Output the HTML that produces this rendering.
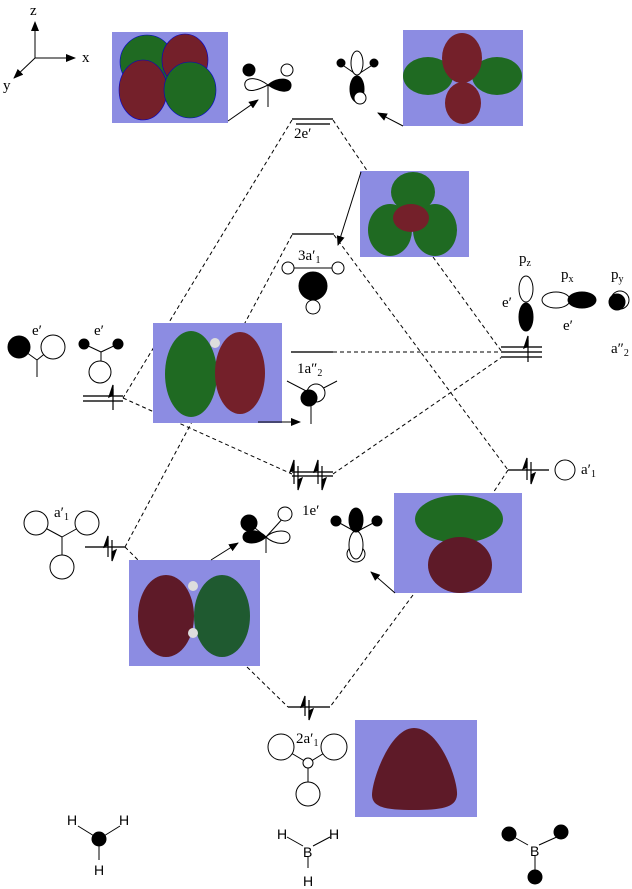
<!DOCTYPE html>
<html><head><meta charset="utf-8"><style>
html,body{margin:0;padding:0;background:#fff;}
svg{display:block;}
text{font-family:"Liberation Serif",serif;font-size:15px;fill:#000;}
.s{font-family:"Liberation Sans",sans-serif;font-size:14px;}
</style></head><body>
<svg width="632" height="889" viewBox="0 0 632 889" xmlns="http://www.w3.org/2000/svg">
<defs>
<marker id="ar" markerWidth="10" markerHeight="8" refX="9" refY="4" orient="auto" markerUnits="userSpaceOnUse"><path d="M0,0 L10,4 L0,8 z" fill="#000"/></marker>
</defs>
<g stroke="#000" stroke-width="1" fill="none" stroke-dasharray="4,3">
<line x1="292" y1="120" x2="123" y2="398"/>
<line x1="333" y1="120" x2="368" y2="172"/>
<line x1="433" y1="257" x2="502" y2="352"/>
<line x1="292" y1="235" x2="125" y2="547"/>
<line x1="334" y1="235" x2="508" y2="470"/>
<line x1="333" y1="352" x2="502" y2="352"/>
<line x1="123" y1="398" x2="292" y2="474"/>
<line x1="333" y1="474" x2="502" y2="357"/>
<line x1="508" y1="470" x2="493" y2="493"/>
<line x1="413" y1="595" x2="330" y2="707"/>
<line x1="125" y1="547" x2="138" y2="560"/>
<line x1="247" y1="667" x2="288" y2="707"/>
</g>
<g stroke="#555" stroke-width="2" fill="none">
<line x1="292" y1="119" x2="333" y2="119"/><line x1="296" y1="124" x2="330" y2="124"/>
<line x1="292" y1="234" x2="334" y2="234"/>
<line x1="291" y1="352" x2="333" y2="352"/>
<line x1="501" y1="347" x2="542" y2="347"/><line x1="501" y1="352" x2="542" y2="352"/><line x1="501" y1="357" x2="542" y2="357"/>
<line x1="83" y1="396" x2="123" y2="396"/><line x1="83" y1="401" x2="123" y2="401"/>
<line x1="292" y1="472" x2="333" y2="472"/><line x1="292" y1="476" x2="333" y2="476"/>
<line x1="508" y1="470" x2="549" y2="470"/>
<line x1="85" y1="547" x2="125" y2="547"/>
<line x1="288" y1="707" x2="330" y2="707"/>
</g>
<g fill="#000" stroke="#000" stroke-width="1.2">
<line x1="528" y1="340" x2="528" y2="362"/><path d="M528,336 L524,348 L528,346z"/>
<line x1="113" y1="389" x2="113" y2="410"/><path d="M113,385 L109,397 L113,395z"/>
<line x1="294" y1="464" x2="294" y2="484"/><path d="M294,460 L290,472 L294,470z"/>
<line x1="298" y1="466" x2="298" y2="488"/><path d="M298,490 L302,478 L298,480z"/>
<line x1="318" y1="464" x2="318" y2="484"/><path d="M318,460 L314,472 L318,470z"/>
<line x1="322" y1="466" x2="322" y2="488"/><path d="M322,490 L326,478 L322,480z"/>
<line x1="527" y1="462" x2="527" y2="480"/><path d="M527,458 L523,469 L527,467z"/>
<line x1="531" y1="462" x2="531" y2="482"/><path d="M531,484 L535,473 L531,475z"/>
<line x1="108" y1="540" x2="108" y2="557"/><path d="M108,536 L104,547 L108,545z"/>
<line x1="112" y1="540" x2="112" y2="559"/><path d="M112,561 L116,550 L112,552z"/>
<line x1="305" y1="700" x2="305" y2="716"/><path d="M305,696 L301,707 L305,705z"/>
<line x1="309" y1="700" x2="309" y2="718"/><path d="M309,720 L313,709 L309,711z"/>
</g>
<g>
<rect x="112" y="32" width="116" height="91" fill="#8c8ce2"/>
<ellipse cx="147" cy="62" rx="27" ry="27" fill="#1f6a22" stroke="#00c" stroke-width="0.6"/>
<ellipse cx="185" cy="60" rx="23" ry="26" fill="#74202a" stroke="#00c" stroke-width="0.6"/>
<ellipse cx="143" cy="90" rx="24" ry="30" fill="#74202a" stroke="#00c" stroke-width="0.6"/>
<ellipse cx="190" cy="90" rx="26" ry="28" fill="#1f6a22" stroke="#00c" stroke-width="0.6"/>
<rect x="403" y="30" width="120" height="96" fill="#8c8ce2"/>
<ellipse cx="428" cy="76" rx="25" ry="19" fill="#1f6a22"/>
<ellipse cx="497" cy="76" rx="25" ry="19" fill="#1f6a22"/>
<ellipse cx="462" cy="58" rx="20" ry="25" fill="#74202a"/>
<ellipse cx="463" cy="103" rx="18" ry="21" fill="#74202a"/>
<rect x="360" y="171" width="109" height="86" fill="#8c8ce2"/>
<ellipse cx="413" cy="192" rx="22" ry="20" fill="#1f6a22"/>
<ellipse cx="390" cy="230" rx="22" ry="26" fill="#1f6a22"/>
<ellipse cx="435" cy="230" rx="22" ry="26" fill="#1f6a22"/>
<ellipse cx="411" cy="218" rx="18" ry="14" fill="#74202a"/>
<rect x="153" y="323" width="129" height="100" fill="#8c8ce2"/>
<ellipse cx="191" cy="374" rx="26" ry="43" fill="#1f6a22"/>
<ellipse cx="240" cy="373" rx="25" ry="41" fill="#74202a"/>
<circle cx="215" cy="343" r="5" fill="#ddd"/>
<rect x="394" y="493" width="128" height="100" fill="#8c8ce2"/>
<ellipse cx="459" cy="519" rx="44" ry="24" fill="#1f6a22"/>
<ellipse cx="460" cy="565" rx="32" ry="28" fill="#5e1a28"/>
<rect x="129" y="560" width="131" height="106" fill="#8c8ce2"/>
<ellipse cx="166" cy="616" rx="28" ry="41" fill="#5e1a28"/>
<ellipse cx="222" cy="616" rx="28" ry="41" fill="#1f5a30"/>
<circle cx="193" cy="586" r="5" fill="#ddd"/><circle cx="193" cy="633" r="5" fill="#ddd"/>
<rect x="355" y="720" width="122" height="97" fill="#8c8ce2"/>
<path d="M414,728 C440,728 458,780 457,795 C456,808 440,810 414,810 C388,810 372,808 372,795 C372,780 390,728 414,728z" fill="#5e1a28"/>
</g>
<g stroke="#000" stroke-width="1" marker-end="url(#ar)">
<line x1="228" y1="121" x2="258" y2="100"/>
<line x1="403" y1="126" x2="378" y2="113"/>
<line x1="361" y1="172" x2="338" y2="245"/>
<line x1="258" y1="422" x2="300" y2="422"/>
<line x1="211" y1="560" x2="238" y2="543"/>
<line x1="395" y1="593" x2="371" y2="572"/>
<line x1="35" y1="58" x2="35" y2="22"/>
<line x1="35" y1="58" x2="75" y2="58"/>
<line x1="35" y1="58" x2="14" y2="78"/>
</g>
<text x="30" y="15">z</text><text x="82" y="62">x</text><text x="3" y="90">y</text>
<g stroke="#000" stroke-width="1">
<line x1="268" y1="85" x2="268" y2="107"/>
<path d="M268,85 C255,75 243,78 245,86 C247,94 258,90 268,85z" fill="#fff"/>
<path d="M268,85 C278,76 292,78 291,86 C290,94 278,92 268,85z" fill="#000"/>
<circle cx="249" cy="70" r="6" fill="#000"/><circle cx="287" cy="70" r="6" fill="#fff"/>
<line x1="357" y1="75" x2="341" y2="64"/><line x1="357" y1="75" x2="374" y2="64"/>
<circle cx="341" cy="63" r="4" fill="#000"/><circle cx="374" cy="63" r="4" fill="#000"/>
<ellipse cx="357" cy="63" rx="6" ry="12" fill="#fff"/>
<ellipse cx="357" cy="89" rx="7" ry="13" fill="#000"/>
<circle cx="360" cy="98" r="6" fill="#fff"/>
<line x1="288" y1="268" x2="338" y2="268"/><line x1="312" y1="285" x2="312" y2="307"/>
<circle cx="288" cy="268" r="6" fill="#fff"/><circle cx="338" cy="268" r="6" fill="#fff"/>
<circle cx="313" cy="307" r="7" fill="#fff"/>
<circle cx="313" cy="286" r="14" fill="#000"/>
<ellipse cx="526" cy="289" rx="7" ry="13" fill="#fff"/>
<ellipse cx="526" cy="317" rx="7" ry="14" fill="#000"/>
<ellipse cx="556" cy="300" rx="14" ry="8" fill="#fff"/>
<ellipse cx="582" cy="300" rx="14" ry="8" fill="#000"/>
<circle cx="620" cy="300" r="9" fill="#fff"/><circle cx="617" cy="302" r="8" fill="#000"/>
<line x1="19" y1="347" x2="37" y2="360"/><line x1="53" y1="347" x2="37" y2="360"/><line x1="37" y1="360" x2="37" y2="377"/>
<circle cx="19" cy="347" r="11" fill="#000"/><circle cx="53" cy="347" r="12" fill="#fff"/>
<line x1="84" y1="344" x2="101" y2="352"/><line x1="118" y1="344" x2="101" y2="352"/><line x1="101" y1="352" x2="101" y2="362"/>
<circle cx="84" cy="344" r="5" fill="#000"/><circle cx="118" cy="344" r="5" fill="#000"/>
<circle cx="100" cy="372" r="11" fill="#fff"/>
<line x1="287" y1="381" x2="312" y2="394"/><line x1="337" y1="381" x2="312" y2="394"/><line x1="311" y1="398" x2="311" y2="424"/>
<circle cx="316" cy="393" r="9" fill="#fff"/><circle cx="309" cy="398" r="8" fill="#000"/>
<circle cx="565" cy="470" r="10" fill="#fff"/>
<line x1="36" y1="523" x2="62" y2="537"/><line x1="87" y1="523" x2="62" y2="537"/><line x1="62" y1="537" x2="62" y2="556"/>
<circle cx="36" cy="523" r="12" fill="#fff"/><circle cx="87" cy="523" r="12" fill="#fff"/><circle cx="62" cy="567" r="12" fill="#fff"/>
<line x1="266" y1="537" x2="266" y2="553"/>
<path d="M266,537 C258,528 243,529 243,537 C243,545 258,545 266,537z" fill="#000"/>
<path d="M266,537 C274,529 290,529 290,537 C290,546 274,545 266,537z" fill="#fff"/>
<line x1="266" y1="537" x2="250" y2="524"/><line x1="266" y1="537" x2="285" y2="516"/>
<circle cx="249" cy="523" r="8" fill="#000"/><circle cx="285" cy="514" r="7" fill="#fff"/>
<line x1="356" y1="532" x2="336" y2="521"/><line x1="356" y1="532" x2="377" y2="521"/>
<circle cx="336" cy="521" r="5" fill="#000"/><circle cx="377" cy="521" r="5" fill="#000"/>
<ellipse cx="356" cy="554" rx="9" ry="8" fill="#fff"/>
<ellipse cx="356" cy="545" rx="7" ry="14" fill="#fff"/>
<ellipse cx="356" cy="520" rx="7" ry="12" fill="#000"/>
<line x1="281" y1="747" x2="308" y2="763"/><line x1="334" y1="747" x2="308" y2="763"/><line x1="308" y1="763" x2="308" y2="782"/>
<circle cx="281" cy="747" r="13" fill="#fff"/><circle cx="334" cy="747" r="13" fill="#fff"/>
<circle cx="308" cy="763" r="5" fill="#fff"/><circle cx="308" cy="794" r="12" fill="#fff"/>
<line x1="78" y1="826" x2="99" y2="839"/><line x1="120" y1="826" x2="99" y2="839"/><line x1="99" y1="839" x2="99" y2="860"/>
<circle cx="99" cy="839" r="7" fill="#000"/>
<line x1="287" y1="837" x2="303" y2="846"/><line x1="330" y1="837" x2="313" y2="846"/><line x1="308" y1="856" x2="308" y2="868"/>
<line x1="512" y1="836" x2="528" y2="845"/><line x1="559" y1="836" x2="539" y2="845"/><line x1="535" y1="856" x2="535" y2="874"/>
<circle cx="509" cy="834" r="7" fill="#000"/><circle cx="561" cy="832" r="7" fill="#000"/><circle cx="535" cy="877" r="7" fill="#000"/>
</g>
<text x="294" y="138">2e′</text>
<text x="298" y="260">3a′<tspan font-size="10" dy="3">1</tspan></text>
<text x="297" y="373">1a″<tspan font-size="10" dy="3">2</tspan></text>
<text x="302" y="515">1e′</text>
<text x="296" y="743">2a′<tspan font-size="10" dy="3">1</tspan></text>
<text x="519" y="263">p<tspan font-size="10" dy="3">z</tspan></text>
<text x="561" y="279">p<tspan font-size="10" dy="3">x</tspan></text>
<text x="611" y="279">p<tspan font-size="10" dy="3">y</tspan></text>
<text x="502" y="307">e′</text>
<text x="563" y="330">e′</text>
<text x="611" y="353">a″<tspan font-size="10" dy="3">2</tspan></text>
<text x="32" y="335">e′</text>
<text x="94" y="335">e′</text>
<text x="581" y="474">a′<tspan font-size="10" dy="3">1</tspan></text>
<text x="54" y="517">a′<tspan font-size="10" dy="3">1</tspan></text>
<text class="s" x="67" y="825">H</text><text class="s" x="119" y="825">H</text><text class="s" x="94" y="875">H</text>
<text class="s" x="277" y="839">H</text><text class="s" x="329" y="839">H</text><text class="s" x="303" y="857">B</text><text class="s" x="303" y="886">H</text>
<text class="s" x="530" y="856">B</text>
</svg>
</body></html>
